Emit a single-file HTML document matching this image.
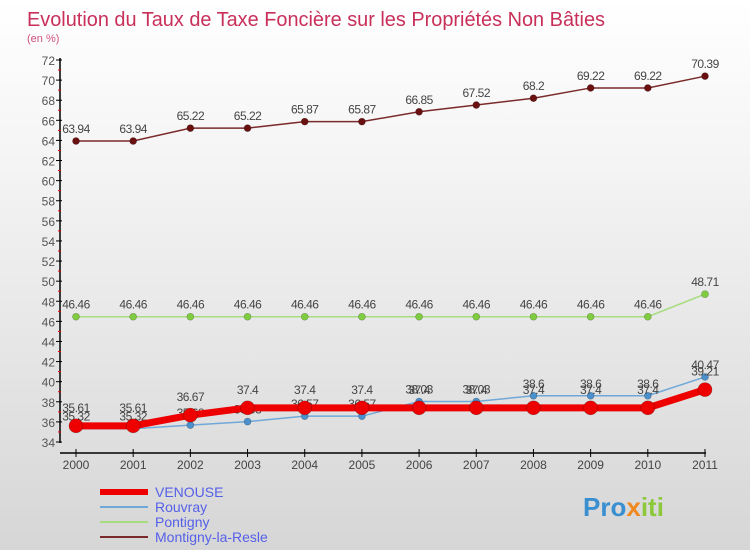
<!DOCTYPE html>
<html><head><meta charset="utf-8"><style>
body{margin:0;width:750px;height:550px;overflow:hidden;font-family:"Liberation Sans",sans-serif}
#wrap{position:relative;width:750px;height:550px;background:linear-gradient(#ffffff,#f4f4f4 30%,#d6d6d6)}
</style></head><body>
<div id="wrap">
<svg id="svg" width="750" height="550"></svg>
</div>
<script>
const years=["2000","2001","2002","2003","2004","2005","2006","2007","2008","2009","2010","2011"];
const venouse=[35.61,35.61,36.67,37.4,37.4,37.4,37.4,37.4,37.4,37.4,37.4,39.21];
const rouvray=[35.32,35.32,35.68,36.03,36.57,36.57,38.03,38.03,38.6,38.6,38.6,40.47];
const pontigny=[46.46,46.46,46.46,46.46,46.46,46.46,46.46,46.46,46.46,46.46,46.46,48.71];
const montigny=[63.94,63.94,65.22,65.22,65.87,65.87,66.85,67.52,68.2,69.22,69.22,70.39];
const yTicks=[34,36,38,40,42,44,46,48,50,52,54,56,58,60,62,64,66,68,70,72];
const NS="http://www.w3.org/2000/svg";
const svg=document.getElementById('svg');
function X(i){return 76+i*(705-76)/(years.length-1);}
function Y(v){return 442-(v-34)*(382/38);}
function el(t,a,txt){const e=document.createElementNS(NS,t);for(const k in a)e.setAttribute(k,a[k]);if(txt!==undefined)e.textContent=txt;svg.appendChild(e);return e;}
let e;
e=el('text',{x:27,y:26,'font-size':20,fill:'#c8305a',textLength:578,lengthAdjust:'spacingAndGlyphs'},'Evolution du Taux de Taxe Foncière sur les Propriétés Non Bâties');

e=el('text',{x:27,y:42,'font-size':11,fill:'#d05080'},'(en %)');

e=el('line',{x1:60,y1:58,x2:60,y2:443,stroke:'#000','stroke-width':1.5});

e=el('line',{x1:60,y1:453,x2:706,y2:453,stroke:'#000','stroke-width':1.5});

yTicks.forEach(v=>{
 e=el('line',{x1:56,y1:Y(v),x2:62,y2:Y(v),stroke:'#000'});
 
 if(v<72){
 e=el('line',{x1:58,y1:Y(v+1),x2:61,y2:Y(v+1),stroke:'#e00'});
 
 }
 e=el('text',{x:55,y:Y(v)+5,'font-size':12,fill:'#555','text-anchor':'end'},String(v));
 
});
years.forEach((y,i)=>{
 e=el('line',{x1:X(i),y1:449,x2:X(i),y2:457,stroke:'#000'});
 
 e=el('text',{x:X(i),y:469,'font-size':12,fill:'#444','text-anchor':'middle'},y);
 
});
function series(data,color,w,r,dot,name,labOff){
 const pts=data.map((v,i)=>X(i)+','+Y(v)).join(' ');
 e=el('polyline',{points:pts,fill:'none',stroke:color,'stroke-width':w});
 
 data.forEach((v,i)=>{
  e=el('circle',{cx:X(i),cy:Y(v),r:r,fill:dot,stroke:'rgba(0,0,0,0.3)','stroke-width':0.6});
  
  e=el('text',{x:X(i),y:Y(v)+labOff,'font-size':12,fill:'#444','text-anchor':'middle','letter-spacing':'-0.5'},String(v));
  
 });
}
series(montigny,'#7a2a2a',1.5,3.5,'#6a1010','montigny',-8);
series(pontigny,'#a8dc80',1.5,3.5,'#80cc40','pontigny',-8);
series(rouvray,'#70a8d8',1.5,3.5,'#4a90cc','rouvray',-8);
series(venouse,'#ee0000',7,7,'#ee0000','venouse',-14);
const legend=[['VENOUSE','#ee0000',6],['Rouvray','#70a8d8',2],['Pontigny','#a8dc80',2],['Montigny-la-Resle','#7a2a2a',2]];
legend.forEach((l,i)=>{
 const y=492+i*15;
 e=el('line',{x1:100,y1:y,x2:148,y2:y,stroke:l[1],'stroke-width':l[2]});
 
 e=el('text',{x:155,y:y+5,'font-size':14,fill:'#5560e8'},l[0]);
 
});
e=el('text',{x:583,y:516,'font-size':26,'font-weight':'bold'});

e.innerHTML='<tspan fill="#3a8fd0">Pro</tspan><tspan fill="#f08a20">x</tspan><tspan fill="#8cc83a">iti</tspan>';
</script>
</body></html>
